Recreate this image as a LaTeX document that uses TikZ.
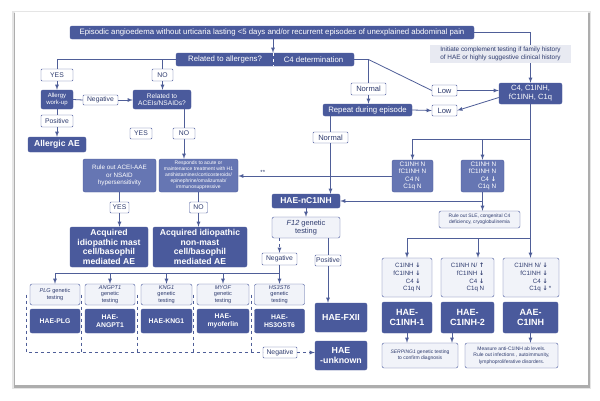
\documentclass[tikz,border=0pt]{standalone}
\usepackage{fontspec}
\setmainfont{Liberation Sans}
\newfontfamily\arrfont{DejaVu Sans}
\usepackage{xcolor}
\usepackage{tikz}
\definecolor{dkblue}{HTML}{4A5A9C}
\definecolor{mdblue}{HTML}{6676B3}
\definecolor{ltfill}{HTML}{F1F3F9}
\definecolor{initfill}{HTML}{E8EAF2}
\definecolor{txtnavy}{HTML}{2E3B6E}
\definecolor{lncol}{HTML}{4F5E98}
\newcommand{\fsz}[2]{\fontsize{#1}{#2}\selectfont}
\newcommand{\dn}{{\arrfont\bfseries ↓}}
\newcommand{\upa}{{\arrfont\bfseries ↑}}

\begin{document}
\begin{tikzpicture}[x=1pt, y=-1pt, >=latex,
  sz/.style 2 args={minimum width=#1pt, minimum height=#2pt},
  dark/.style={fill=dkblue, draw=dkblue, text=white, rounded corners=2pt, align=center, inner sep=0.5pt},
  mid/.style={fill=mdblue, draw=dkblue, text=white, rounded corners=2pt, align=center, inner sep=0.5pt},
  light/.style={fill=ltfill, draw=dkblue, text=txtnavy, rounded corners=2pt, align=center, inner sep=0.5pt},
  lbl/.style={fill=white, draw=dkblue, text=txtnavy, rounded corners=1pt, align=center, inner sep=0.5pt, font=\fsz{6.8}{8}},
  ln/.style={draw=lncol, line width=0.8pt},
  dsh/.style={ln, dashed}]
\useasboundingbox (0,0) rectangle (600,400);
\fill[black!10] (12,11) rectangle (591,389);
\fill[black!32] (13.5,13) rectangle (589.5,387.5);
\fill[white] (15,12) rectangle (588,384.5);

\node[dark, sz={404}{13}, font=\fsz{7.8}{9}] (title) at (272,32.5) {Episodic angioedema without urticaria lasting <5 days and/or recurrent episodes of unexplained abdominal pain};
\node[dark, sz={178}{13}] (rel) at (265,59.5) {};
\coordinate (split) at (273,59.5);
\draw[white, dashed, line width=0.6pt] (split |- rel.north) -- (split |- rel.south);
\node[text=white, font=\fsz{7.8}{9}] (relA) at (225,59.5) {Related to allergens?};
\node[text=white, font=\fsz{7.8}{9}] (relB) at (313.5,59.5) {C4 determination};
\draw[ln,->] (title.south -| split) -- (rel.north -| split);

\node[fill=initfill, sz={141}{18}, text=txtnavy, align=left, inner sep=1pt, font=\fsz{6.4}{7.4}] (init) at (500.5,54) {Initiate complement testing if family history\\of HAE or highly suggestive clinical history};
\node[dark, sz={63}{21}, font=\fsz{7.6}{8.8}] (c4) at (530.5,93.5) {C4, C1INH,\\fC1INH, C1q};
\draw[ln] (title.east) -| (c4.north |- init.north);
\draw[ln,->] (c4.north |- init.south) -- (c4.north);

\node[lbl, sz={32}{12}] (yes1) at (57,75) {YES};
\node[lbl, sz={21}{12}] (no1) at (162.5,75) {NO};
\node[dark, sz={32}{19}, font=\fsz{6}{7}] (allergy) at (57,99.5) {Allergy\\work-up};
\node[lbl, sz={35}{10}] (neg1) at (100.5,100) {Negative};
\node[dark, sz={58}{19}, font=\fsz{6.6}{7.6}] (acei) at (162,99.5) {Related to\\ACEIs/NSAIDs?};
\node[lbl, sz={32}{12}] (pos1) at (57,121) {Positive};
\node[dark, sz={58}{15}, font=\fsz{8.6}{10}\bfseries] (allergic) at (57,144.5) {Allergic AE};
\node[lbl, sz={22}{11}] (yes2) at (141,133.5) {YES};
\node[lbl, sz={22}{11}] (no2) at (184,133.5) {NO};
\draw[ln] (rel.west) -| (yes1.north);
\draw[ln] (no1.north) -- (no1.north |- rel.west);
\draw[ln,->] (yes1.south) -- (allergy.north);
\draw[ln,->] (no1.south) -- (no1.south |- acei.north);
\draw[ln] (allergy.east) -- (neg1.west);
\draw[ln,->] (neg1.east) -- (neg1.east -| acei.west);
\draw[ln] (allergy.south) -- (pos1.north);
\draw[ln,->] (pos1.south) -- (allergic.north);

\node[mid, sz={73}{33}, font=\fsz{6.3}{7.6}] (ruleout) at (119.5,175.5) {Rule out ACEI-AAE\\or NSAID\\hypersensitivity};
\node[mid, sz={79}{33}, font=\fsz{5}{6}] (responds) at (198.5,175.5) {Responds to acute or\\maintenance treatment with H1\\antihistamines/corticosteroids/\\epinephrine/omalizumab/\\immunosuppressive};
\draw[ln] (acei.south -| no2.north) -- (no2.north);
\draw[ln,->] (no2.south) -- (no2.south |- responds.north);
\node[lbl, sz={19}{11}] (yes3) at (119.5,207.5) {YES};
\node[lbl, sz={18}{11}] (no3) at (198.5,207.5) {NO};
\node[dark, sz={78}{40}, font=\fsz{8.6}{9.6}\bfseries] (mast) at (109,247) {Acquired\\idiopathic mast\\cell/basophil\\mediated AE};
\node[dark, sz={94}{40}, font=\fsz{8.6}{9.6}\bfseries] (nonmast) at (200,247) {Acquired idiopathic\\non-mast\\cell/basophil\\mediated AE};
\draw[ln] (ruleout.south) -- (yes3.north);
\draw[ln,->] (yes3.south) -- (yes3.south |- mast.north);
\draw[ln] (responds.south) -- (no3.north);
\draw[ln,->] (no3.south) -- (no3.south |- nonmast.north);

\node[lbl, sz={35}{12}, font=\fsz{7.6}{9}] (normal1) at (368.5,89) {Normal};
\node[dark, sz={89}{12}, font=\fsz{7.8}{9}] (repeat) at (367.5,110) {Repeat during episode};
\node[lbl, sz={35}{11}, font=\fsz{7.6}{9}] (normal2) at (330.5,137.5) {Normal};
\node[lbl, sz={25}{11}, font=\fsz{7.6}{9}] (low1) at (444.5,90.5) {Low};
\node[lbl, sz={25}{11}, font=\fsz{7.6}{9}] (low2) at (444.5,110.5) {Low};
\coordinate (rj) at (368.5,59.5);
\draw[ln] (rel.east) -- (rj) -- (normal1.north);
\draw[ln,->] (normal1.south) -- (normal1.south |- repeat.north);
\draw[ln] (rj) -- (low1.west);
\draw[ln,->] (low1.east) -- (low1.east -| c4.west);
\draw[ln,->] (repeat.east) -- (low2.west);
\draw[ln,->] ([yshift=-4pt]c4.west) -- (low2.east);
\draw[ln] (repeat.south -| normal2.north) -- (normal2.north);

\node[mid, sz={41}{32}, font=\fsz{6.4}{7.3}] (c1a) at (412.5,176) {C1INH N\\fC1INH N\\C4 N\\C1q N};
\node[mid, sz={43}{32}, align=right, font=\fsz{6.4}{7.3}] (c1b) at (482.5,176) {C1INH N\\fC1INH N\\C4 \dn\\C1q N};
\node[light, sz={81}{17}, font=\fsz{4.9}{6}] (sle) at (479.5,219.5) {Rule out SLE, congenital C4\\deficiency, cryoglobulinemia};
\node[dark, sz={68}{14}, font=\fsz{8.5}{10}\bfseries] (nc1inh) at (306,201) {HAE-nC1INH};
\node[light, sz={68}{21}, font=\fsz{7.4}{8.6}] (f12) at (306,227.5) {\textit{F12} genetic\\testing};
\draw[ln,->] (normal2.south) -- (normal2.south |- nc1inh.north);
\coordinate (cj1) at (530.5,139);
\coordinate (cj2) at (530.5,238);
\draw[ln] (cj1) -- (cj1 -| c1a.north);
\draw[ln,->] (cj1 -| c1a.north) -- (c1a.north);
\draw[ln,->] (cj1 -| c1b.north) -- (c1b.north);
\draw[ln,->] (c1a.west) -- (c1a.west -| responds.east) node[pos=0.84, above, inner sep=1pt, text=txtnavy, font=\fsz{6}{7}] {**};
\draw[ln,->] (c1b.south) -- (c1b.south |- sle.north);
\draw[ln,->] (c1b.south |- nc1inh.east) -- (nc1inh.east);
\draw[ln,->] (nc1inh.south) -- (f12.north);

\node[lbl, sz={35}{12}] (neg2) at (279.5,259) {Negative};
\node[lbl, sz={26}{11}] (pos2) at (328,260.5) {Positive};
\draw[ln,dashed,->] (f12.south -| neg2.north) -- (neg2.north);
\draw[ln] (f12.south -| pos2.north) -- (pos2.north);

\node[light, sz={50}{21}, font=\fsz{5.6}{6.3}] (gplg) at (55,294.5) {\textit{PLG} genetic\\testing};
\node[light, sz={50}{21}, font=\fsz{5.6}{6.3}] (gangpt) at (110,294.5) {\textit{ANGPT1}\\genetic\\testing};
\node[light, sz={51}{21}, font=\fsz{5.6}{6.3}] (gkng) at (166.5,294.5) {\textit{KNG1}\\genetic\\testing};
\node[light, sz={52}{21}, font=\fsz{5.6}{6.3}] (gmyo) at (223,294.5) {\textit{MYOF}\\genetic\\testing};
\node[light, sz={50}{21}, font=\fsz{5.6}{6.3}] (ghs) at (279.5,294.5) {\textit{HS3ST6}\\genetic\\testing};
\coordinate (gj) at (279.5,273);
\draw[ln] (neg2.south) -- (gj) -- (gj -| gplg.north);
\draw[ln,->] (gj -| gplg.north) -- (gplg.north);
\draw[ln,->] (gj -| gangpt.north) -- (gangpt.north);
\draw[ln,->] (gj -| gkng.north) -- (gkng.north);
\draw[ln,->] (gj -| gmyo.north) -- (gmyo.north);
\draw[ln,->] (gj) -- (ghs.north);

\node[dark, sz={50}{24}, font=\fsz{6.8}{7.8}\bfseries] (hplg) at (55,321) {HAE-PLG};
\node[dark, sz={50}{24}, font=\fsz{6.8}{7.8}\bfseries] (hangpt) at (110,321) {HAE-\\ANGPT1};
\node[dark, sz={51}{24}, font=\fsz{6.8}{7.8}\bfseries] (hkng) at (166.5,321) {HAE-KNG1};
\node[dark, sz={52}{24}, font=\fsz{6.8}{7.8}\bfseries] (hmyo) at (223,321) {HAE-\\myoferlin};
\node[dark, sz={50}{24}, font=\fsz{6.8}{7.8}\bfseries] (hhs) at (279.5,321) {HAE-\\HS3OST6};
\node[dark, sz={52}{29}, font=\fsz{8.8}{10.5}\bfseries] (fxii) at (341,317.5) {HAE-FXII};
\node[dark, sz={52}{29}, font=\fsz{8.8}{10.5}\bfseries] (unknown) at (341,355.5) {HAE\\-unknown};
\node[lbl, sz={34}{11}] (neg3) at (280,352.5) {Negative};
\draw[ln,->] (pos2.south) -- (pos2.south |- fxii.north);
\draw[dsh] ([xshift=-3pt]gplg.west) -- ([xshift=-3pt]gplg.west |- neg3.west) -- (neg3.west);
\draw[dsh] ([xshift=-3pt]gangpt.west) -- ([xshift=-3pt]gangpt.west |- neg3.west);
\draw[dsh] ([xshift=-3pt]gkng.west) -- ([xshift=-3pt]gkng.west |- neg3.west);
\draw[dsh] ([xshift=-3pt]gmyo.west) -- ([xshift=-3pt]gmyo.west |- neg3.west);
\draw[dsh] ([xshift=-3pt]ghs.west) -- ([xshift=-3pt]ghs.west |- neg3.west);
\draw[dsh,->] (neg3.east) -- (neg3.east -| unknown.west);

\node[light, sz={50}{39}, align=right, font=\fsz{6.2}{7.8}] (s1) at (407,277.5) {C1INH \dn\\fC1INH \dn\\C4 \dn\\C1q N};
\node[light, sz={53}{39}, align=right, font=\fsz{6.2}{7.8}] (s2) at (467.5,277.5) {C1INH N/ \upa\\fC1INH \dn\\C4 \dn\\C1q N};
\node[light, sz={56}{39}, align=right, font=\fsz{6.2}{7.8}] (s3) at (531,277.5) {C1INH N/ \dn\\fC1INH \dn\\C4 \dn\\C1q \dn\rlap{\,*}};
\coordinate (s2in) at (478,238);
\draw[ln,->] (c4.south) -- (c4.south |- s3.north);
\draw[ln] (cj2) -- (cj2 -| s1.north);
\draw[ln,->] (cj2 -| s1.north) -- (s1.north);
\draw[ln,->] (s2in) -- (s2in |- s2.north);

\node[dark, sz={50}{31}, font=\fsz{9}{10.5}\bfseries] (c1inh1) at (407,317.5) {HAE-\\C1INH-1};
\node[dark, sz={53}{31}, font=\fsz{9}{10.5}\bfseries] (c1inh2) at (467.5,317.5) {HAE-\\C1INH-2};
\node[dark, sz={55}{31}, font=\fsz{9}{10.5}\bfseries] (aae) at (530.5,317.5) {AAE-\\C1INH};
\node[light, sz={76}{25}, font=\fsz{5}{6.2}] (serp) at (420,355.5) {\textit{SERPING1} genetic testing\\to confirm diagnosis};
\node[light, sz={93}{25}, font=\fsz{5}{6.2}] (meas) at (511.5,355.5) {Measure anti-C1INH ab levels.\\Rule out infections , autoimmunity,\\lymphoproliferative disorders.};
\coordinate (k2) at (452,333);
\draw[ln,->] (c1inh1.south) -- (c1inh1.south |- serp.north);
\draw[ln,->] (k2) -- (k2 |- serp.north);
\draw[ln,->] (aae.south) -- (aae.south |- meas.north);
\end{tikzpicture}
\end{document}
